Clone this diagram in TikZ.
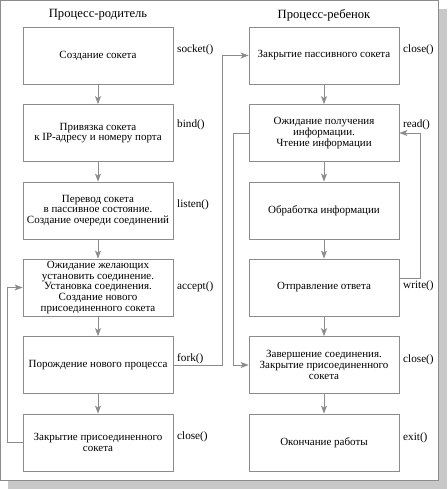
\documentclass[tikz,border=0pt]{standalone}
\usepackage{fontspec}
\setmainfont{Liberation Serif}
\usetikzlibrary{arrows.meta,calc}
\definecolor{lc}{HTML}{8C8C8C}
\definecolor{sh}{HTML}{C8C8C8}
\begin{document}
\begin{tikzpicture}[x=1pt,y=-1pt,
  box/.style={draw=lc, line width=0.8pt, minimum width=150pt, minimum height=57pt,
    align=center, inner sep=0pt, font=\fontsize{11}{10.8}\selectfont},
  fn/.style={anchor=west, inner sep=0pt, font=\fontsize{11.2}{12}\selectfont},
  ttl/.style={inner sep=0pt, font=\fontsize{12.6}{14}\selectfont},
  con/.style={draw=lc, line width=0.8pt},
  arr/.style={con, -{Stealth[length=8pt,width=6pt,inset=2pt,fill=lc]}}]
\useasboundingbox (0,0) rectangle (447,489);
% shadow and frame
\fill[sh] (8,480) rectangle (447,489);
\fill[sh] (438,9) rectangle (447,489);
\draw[lc, line width=0.8pt] (0.5,0.5) rectangle (438,480);
% titles
\node[ttl] (T1) at (98,15) {Процесс-родитель};
\node[ttl] (T2) at (324,15) {Процесс-ребенок};
% left column
\node[box] (L1) at (98,55.5) {Создание сокета};
\node[box] (L2) at (98,133) {Привязка сокета\\к IP-адресу и номеру порта};
\node[box] (L3) at (98,210.5) {Перевод сокета\\в пассивное состояние.\\Создание очереди соединений};
\node[box] (L4) at (98,287.5) {Ожидание желающих\\установить соединение.\\Установка соединения.\\Создание нового\\присоединенного сокета};
\node[box] (L5) at (98,365) {Порождение нового процесса};
\node[box] (L6) at (98,442.5) {Закрытие присоединенного\\сокета};
% right column
\node[box] (R1) at (324,55.5) {Закрытие пассивного сокета};
\node[box] (R2) at (324,133) {Ожидание получения\\информации.\\Чтение информации};
\node[box] (R3) at (324,210.5) {Обработка информации};
\node[box] (R4) at (324,287.5) {Отправление ответа};
\node[box] (R5) at (324,365) {Завершение соединения.\\Закрытие присоединенного\\сокета};
\node[box] (R6) at (324,442.5) {Окончание работы};
% function labels
\node[fn] (f1) at (177,50) {socket()};
\node[fn] (f2) at (177,125) {bind()};
\node[fn] (f3) at (177,205) {listen()};
\node[fn] (f4) at (177,287) {accept()};
\node[fn] (f5) at (177,359) {fork()};
\node[fn] (f6) at (177,437) {close()};
\node[fn] (g1) at (403,50) {close()};
\node[fn] (g2) at (403,125) {read()};
\node[fn] (g3) at (403,286) {write()};
\node[fn] (g4) at (403,360) {close()};
\node[fn] (g5) at (403,438) {exit()};
% vertical arrows
\draw[arr] (L1) -- (L2);
\draw[arr] (L2) -- (L3);
\draw[arr] (L3) -- (L4);
\draw[arr] (L4) -- (L5);
\draw[arr] (L5) -- (L6);
\draw[arr] (R1) -- (R2);
\draw[arr] (R2) -- (R3);
\draw[arr] (R3) -- (R4);
\draw[arr] (R4) -- (R5);
\draw[arr] (R5) -- (R6);
% loops
\coordinate (xf) at (222,0);
\coordinate (xg) at (7,0);
\coordinate (xh) at (233,0);
\coordinate (xk) at (420,0);
\coordinate (w) at ($(R4.north east)+(0,20)$);
\draw[arr] (L5.east) -- (L5.east -| xf) |- (R1.west);
\draw[arr] (L6.west) -- (L6.west -| xg) |- (L4.west);
\draw[arr] (R2.west) -- (R2.west -| xh) |- (R5.west);
\draw[arr] (w) -- (w -| xk) |- (R2.east);
\end{tikzpicture}
\end{document}
